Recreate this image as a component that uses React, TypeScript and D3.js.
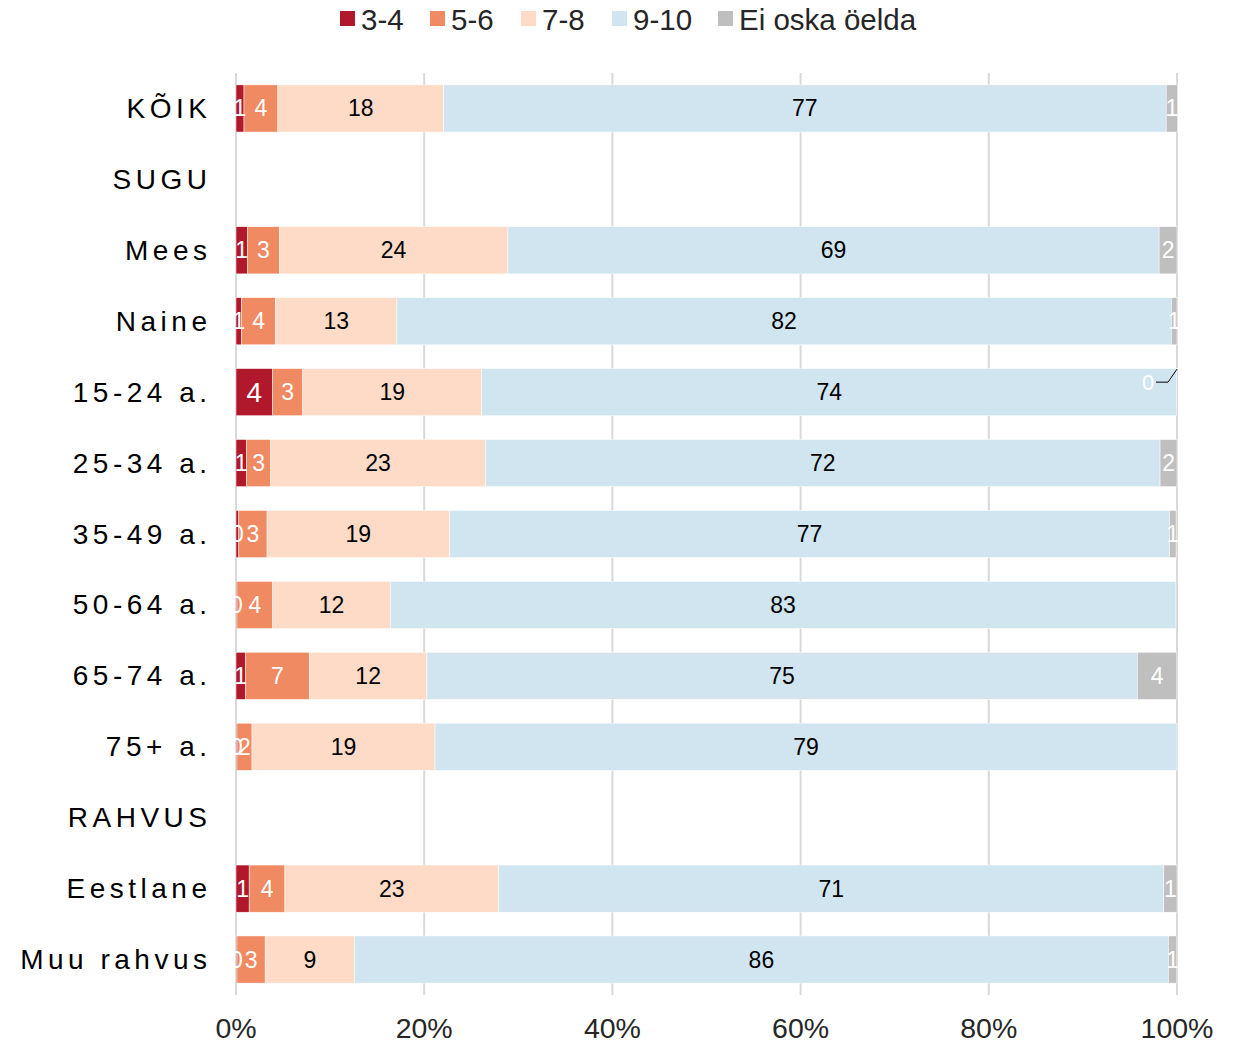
import React from "react";
import * as d3 from "d3";

const categories = ["KÕIK", "SUGU", "Mees", "Naine", "15-24 a.", "25-34 a.", "35-49 a.", "50-64 a.", "65-74 a.", "75+ a.", "RAHVUS", "Eestlane", "Muu rahvus"];
const seriesNames = ["3-4", "5-6", "7-8", "9-10", "Ei oska öelda"];
const colors = ["#b2182b", "#ef8a62", "#fddbc7", "#d1e5f0", "#bfbfbf"];
const labelColors = ["#ffffff", "#ffffff", "#000000", "#000000", "#ffffff"];

const s34 = [0.85, null, 1.2, 0.6, 3.9, 1.1, 0.3, 0.1, 1.0, 0.1, null, 1.4, 0.1];
const s56 = [3.6, null, 3.4, 3.6, 3.2, 2.6, 3.0, 3.8, 6.8, 1.6, null, 3.8, 3.0];
const s78 = [17.6, null, 24.3, 12.9, 19.0, 22.8, 19.4, 12.49, 12.49, 19.45, null, 22.7, 9.49];
const s910 = [76.8, null, 69.2, 82.3, 73.9, 71.7, 76.5, 83.49, 75.49, 78.85, null, 70.7, 86.49];
const sEi = [1.2, null, 1.9, 0.6, 0.1, 1.8, 0.7, 0, 4.2, 0, null, 1.4, 0.9];
const xTicks = [0, 20, 40, 60, 80, 100];

const seriesValues = [s34, s56, s78, s910, sEi];

export default function App() {
  const x = d3.scaleLinear().domain([0, 100]).range([236, 1177]);
  const y = d3.scaleBand<string>().domain(categories).range([73, 995]).paddingInner(0.335).paddingOuter(0.1675);
  const font = "'Liberation Sans', Arial, sans-serif";

  const legendX = [340, 430, 521, 612, 718];

  const bars: React.ReactNode[] = [];
  const labels: React.ReactNode[] = [];
  categories.forEach((cat, i) => {
    let acc = 0;
    seriesValues.forEach((arr, s) => {
      const v = arr[i];
      if (v === null) return;
      const x0 = x(acc);
      const x1 = x(acc + v);
      acc += v;
      const yy = y(cat)!;
      const h = y.bandwidth();
      if (v > 0) {
        bars.push(<rect key={`b${i}-${s}`} x={x0} y={yy} width={x1 - x0} height={h} fill={colors[s]} stroke="#ffffff" strokeWidth={0.5} />);
      }
      const isLast = s === 4;
      if (isLast && v === 0) return;
      const cx = (x0 + x1) / 2;
      const cy = yy + h / 2;
      if (cat === "15-24 a." && isLast) {
        labels.push(
          <g key={`l${i}-${s}`}>
            <text x={1148} y={cy - 10} fill="#ffffff" fontSize={22} fontFamily={font} textAnchor="middle" dominantBaseline="central">{Math.round(v)}</text>
            <polyline points={`1156,${cy - 10} 1168,${cy - 10} 1177,${cy - 23}`} fill="none" stroke="#000" strokeWidth={1} />
          </g>
        );
        return;
      }
      const big = cat === "15-24 a." && s === 0;
      labels.push(
        <text key={`l${i}-${s}`} x={cx} y={cy} fill={labelColors[s]} fontSize={big ? 28 : 23} fontFamily={font} textAnchor="middle" dominantBaseline="central">{Math.round(v)}</text>
      );
    });
  });

  return (
    <svg width={1245} height={1044} style={{ position: "absolute", left: 0, top: 0 }}>
      <rect width={1245} height={1044} fill="#ffffff" />
      {/* legend */}
      {seriesNames.map((n, s) => (
        <g key={n}>
          <rect x={legendX[s]} y={11} width={15} height={15} fill={colors[s]} />
          <text x={legendX[s] + 21} y={30} fontSize={29.5} fontFamily={font} fill="#262626">{n}</text>
        </g>
      ))}
      {/* grid */}
      {xTicks.map((t) => (
        <line key={t} x1={x(t)} x2={x(t)} y1={73} y2={995} stroke="#d9d9d9" strokeWidth={2} />
      ))}
      {bars}
      {labels}
      {/* category labels */}
      {categories.map((c) => (
        <text key={c} x={211.5} y={y(c)! + y.bandwidth() / 2} textAnchor="end" dominantBaseline="central" fontSize={28} letterSpacing={4.5} fontFamily={font} fill="#000">{c}</text>
      ))}
      {/* x ticks */}
      {xTicks.map((t) => (
        <text key={`t${t}`} x={x(t)} y={1038} textAnchor="middle" fontSize={28.5} fontFamily={font} fill="#262626">{t + "%"}</text>
      ))}
    </svg>
  );
}
